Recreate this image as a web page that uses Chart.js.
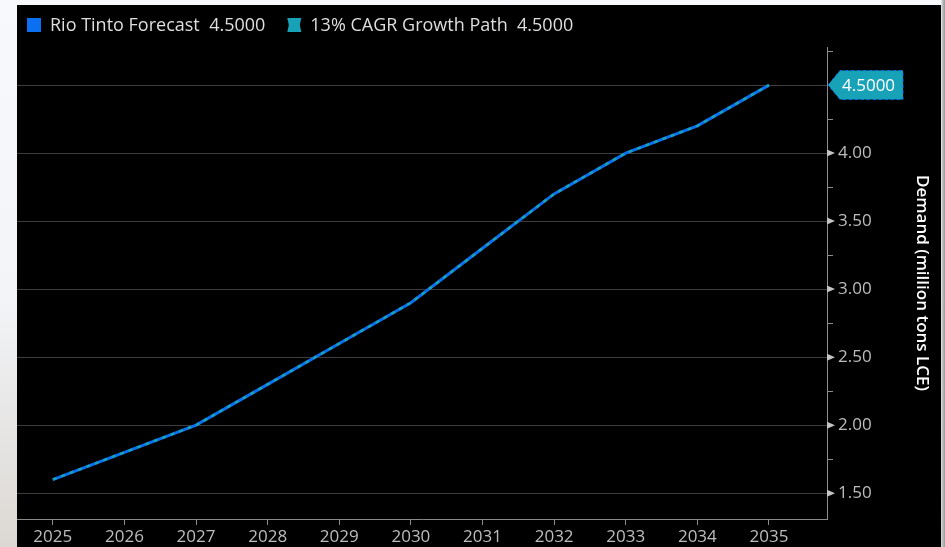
<!DOCTYPE html>
<html>
<head>
<meta charset="utf-8">
<script src="https://cdn.jsdelivr.net/npm/chart.js@4.4.1/dist/chart.umd.min.js"></script>
<style>
    html, body {
        margin: 0;
        width: 945px;
        height: 547px;
        overflow: hidden;
    }
    body {
        background:
            linear-gradient(to right, transparent 941px, #c8c8c8 942px, #9a9a9a 945px),
            linear-gradient(to bottom, #f7f9fc 0px, #f2f4f7 300px, #dcd8d3 547px);
    }
    #painel {
        position: absolute;
        left: 17px;
        top: 5px;
        width: 924px;
        height: 542px;
        background: #000;
    }
</style>
</head>
<body>
<div id="painel">
    <canvas id="graficoDemanda" width="924" height="542"></canvas>
</div>
<script>

// anos e demanda (milhões de t LCE)
const anos = [2025, 2026, 2027, 2028, 2029, 2030, 2031, 2032, 2033, 2034, 2035];

const previsaoRioTinto = [1.60, 1.80, 2.00, 2.30, 2.60, 2.90, 3.30, 3.70, 4.00, 4.20, 4.50];

const caminhoCagr = [1.60, 1.80, 2.00, 2.30, 2.60, 2.90, 3.30, 3.70, 4.00, 4.20, 4.50];

const nomesSeries = ["Rio Tinto Forecast", "13% CAGR Growth Path"];

const ticksY = [1.50, 1.75, 2.00, 2.25, 2.50, 2.75, 3.00, 3.25, 3.50, 3.75, 4.00, 4.25, 4.50, 4.75];

const tituloEixoY = "Demand (million tons LCE)";

const corAzul = "#0a6ff0";
const corTeal = "#17a2b8";
const corEixo = "#8c8c8c";
const corTexto = "#bdbdbd";
const fonte = "\"Open Sans\", \"Liberation Sans\", sans-serif";

const ehMaior = v => Math.abs(v * 2 - Math.round(v * 2)) < 1e-6;

function pontos(valores) {
    return anos.map((ano, i) => ({ x: ano, y: valores[i] }));
}

// legenda com o último valor de cada série
const legendaTopo = {
    id: "legendaTopo",
    afterDraw(chart) {
        const ctx = chart.ctx;
        const y = 20;
        ctx.save();
        ctx.font = "18px " + fonte;
        ctx.textBaseline = "middle";
        ctx.textAlign = "left";

        let x = 10;
        const series = [
            { nome: nomesSeries[0], valor: previsaoRioTinto, cor: corAzul, recorte: false },
            { nome: nomesSeries[1], valor: caminhoCagr, cor: corTeal, recorte: true }
        ];

        series.forEach(s => {
            ctx.fillStyle = s.cor;
            if (s.recorte) {
                // quadrado com pequenos entalhes nos lados
                ctx.beginPath();
                ctx.moveTo(x, y - 7);
                ctx.lineTo(x + 14, y - 7);
                ctx.lineTo(x + 12.5, y);
                ctx.lineTo(x + 14, y + 7);
                ctx.lineTo(x, y + 7);
                ctx.lineTo(x + 1.5, y);
                ctx.closePath();
                ctx.fill();
            } else {
                ctx.fillRect(x, y - 7, 14, 14);
            }
            x += 23;
            ctx.fillStyle = "#dedede";
            const texto = s.nome + "  " + s.valor[s.valor.length - 1].toFixed(4);
            ctx.fillText(texto, x, y + 1);
            x += ctx.measureText(texto).width + 22;
        });
        ctx.restore();
    }
};

// marcadores triangulares e etiqueta do último valor no eixo direito
const marcadoresEixo = {
    id: "marcadoresEixo",
    afterDraw(chart) {
        const ctx = chart.ctx;
        const escala = chart.scales.y;
        const xEixo = escala.left;
        ctx.save();

        ctx.fillStyle = "#c4c4c4";
        escala.ticks.forEach(t => {
            if (!ehMaior(t.value) || Math.abs(t.value - 4.5) < 1e-6) return;
            const yp = escala.getPixelForValue(t.value);
            ctx.beginPath();
            ctx.moveTo(xEixo, yp - 3.5);
            ctx.lineTo(xEixo + 8, yp);
            ctx.lineTo(xEixo, yp + 3.5);
            ctx.closePath();
            ctx.fill();
        });

        const ultimo = previsaoRioTinto[previsaoRioTinto.length - 1];
        const yp = escala.getPixelForValue(ultimo);
        const alt = 14.5;
        ctx.beginPath();
        ctx.moveTo(xEixo + 1, yp);
        ctx.lineTo(xEixo + 13, yp - alt);
        ctx.lineTo(xEixo + 76, yp - alt);
        ctx.lineTo(xEixo + 76, yp + alt);
        ctx.lineTo(xEixo + 13, yp + alt);
        ctx.closePath();
        ctx.fillStyle = corTeal;
        ctx.fill();
        ctx.setLineDash([3, 3]);
        ctx.strokeStyle = corAzul;
        ctx.lineWidth = 1;
        ctx.stroke();
        ctx.setLineDash([]);

        ctx.fillStyle = "#ffffff";
        ctx.font = "17px " + fonte;
        ctx.textBaseline = "middle";
        ctx.textAlign = "left";
        ctx.fillText(ultimo.toFixed(4), xEixo + 15, yp + 1);
        ctx.restore();
    }
};

new Chart(
    document.getElementById("graficoDemanda"),
    {
        type: "line",

        data: {
            datasets: [
                {
                    label: nomesSeries[0],
                    data: pontos(previsaoRioTinto),
                    borderColor: corAzul,
                    borderWidth: 3,
                    pointRadius: 0,
                    tension: 0,
                    order: 2
                },
                {
                    label: nomesSeries[1],
                    data: pontos(caminhoCagr),
                    borderColor: corTeal,
                    borderWidth: 2.5,
                    borderDash: [4, 5],
                    pointRadius: 0,
                    tension: 0,
                    order: 1
                }
            ]
        },

        options: {
            responsive: false,
            animation: false,
            layout: {
                padding: { top: 42, left: 0, right: 0, bottom: 0 }
            },
            plugins: {
                legend: { display: false },
                tooltip: { enabled: false }
            },
            scales: {
                x: {
                    type: "linear",
                    min: 2024.5,
                    max: 2035.81,
                    afterBuildTicks: escala => {
                        escala.ticks = anos.map(a => ({ value: a }));
                    },
                    afterFit: escala => {
                        escala.height = 28;
                    },
                    grid: {
                        drawOnChartArea: false,
                        tickLength: 6,
                        tickColor: corEixo
                    },
                    border: { color: corEixo, width: 1 },
                    ticks: {
                        color: corTexto,
                        font: { family: fonte, size: 17 },
                        padding: 2,
                        maxRotation: 0,
                        callback: v => String(v)
                    }
                },
                y: {
                    type: "linear",
                    position: "right",
                    min: 1.31,
                    max: 4.78,
                    afterBuildTicks: escala => {
                        escala.ticks = ticksY.map(v => ({ value: v }));
                    },
                    afterFit: escala => {
                        escala.width = 114;
                    },
                    grid: {
                        color: c => ehMaior(c.tick.value) ? "#3d3d3d" : "rgba(0,0,0,0)",
                        tickColor: c => ehMaior(c.tick.value) ? "rgba(0,0,0,0)" : corEixo,
                        tickLength: 6,
                        lineWidth: 1
                    },
                    border: { color: corEixo, width: 1 },
                    ticks: {
                        color: corTexto,
                        font: { family: fonte, size: 17 },
                        padding: 5,
                        callback: v => (ehMaior(v) && Math.abs(v - 4.5) > 1e-6) ? v.toFixed(2) : ""
                    },
                    title: {
                        display: true,
                        text: tituloEixoY,
                        color: "#ffffff",
                        font: { family: fonte, size: 17, weight: "600" },
                        padding: { top: 9, bottom: 0 }
                    }
                }
            }
        },

        plugins: [legendaTopo, marcadoresEixo]
    }
);
</script>
</body>
</html>
